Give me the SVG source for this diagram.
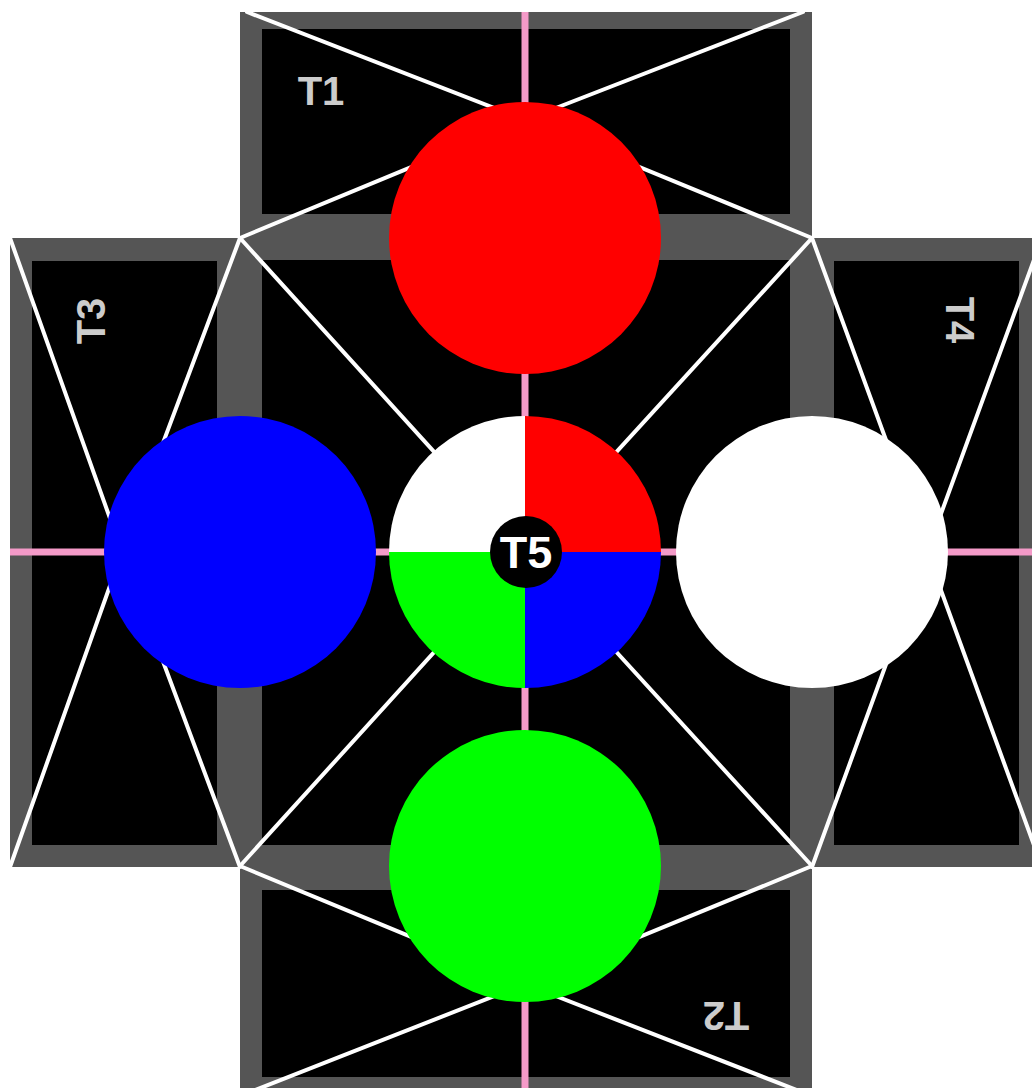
<svg xmlns="http://www.w3.org/2000/svg" width="1032" height="1088" viewBox="0 0 1032 1088">
  <style>
    .frame { fill: #555555; }
    .inner { fill: #000000; }
    .ray { stroke: #ffffff; stroke-width: 4; fill: none; stroke-linecap: round; }
    .axis { stroke: #f49ac8; stroke-width: 7; fill: none; }
    .lbl { font-family: "Liberation Sans", Arial, sans-serif; font-weight: bold; font-size: 40px; fill: #cccccc; text-anchor: middle; }
    .t5 { font-family: "Liberation Sans", Arial, sans-serif; font-weight: bold; font-size: 45px; fill: #ffffff; text-anchor: middle; }
  </style>
  <rect x="0" y="0" width="1032" height="1088" fill="#ffffff"/>

  <g id="T1">
    <rect class="frame" x="240" y="12" width="572" height="226"/>
    <rect class="inner" x="262" y="29" width="528" height="185"/>
  </g>
  <g id="T2">
    <rect class="frame" x="240" y="866" width="572" height="230"/>
    <rect class="inner" x="262" y="890" width="528" height="187"/>
  </g>
  <g id="T3">
    <rect class="frame" x="10" y="238" width="230" height="629"/>
    <rect class="inner" x="32" y="261" width="185" height="584"/>
  </g>
  <g id="T4">
    <rect class="frame" x="812" y="238" width="230" height="629"/>
    <rect class="inner" x="834" y="261" width="185" height="584"/>
  </g>
  <g id="T5">
    <rect class="frame" x="240" y="238" width="572" height="628"/>
    <rect class="inner" x="262" y="260" width="528" height="585"/>
  </g>

  <g id="connectors">
    <line class="axis" x1="525" y1="12" x2="525" y2="1088"/>
    <line class="axis" x1="10" y1="552" x2="1032" y2="552"/>
    <!-- T1 rays -->
    <line class="ray" x1="247" y1="12" x2="525" y2="120"/>
    <line class="ray" x1="803" y1="12" x2="525" y2="120"/>
    <line class="ray" x1="240" y1="238" x2="525" y2="120"/>
    <line class="ray" x1="812" y1="238" x2="525" y2="120"/>
    <!-- T2 rays -->
    <line class="ray" x1="240" y1="866" x2="525" y2="984"/>
    <line class="ray" x1="812" y1="866" x2="525" y2="984"/>
    <line class="ray" x1="240" y1="1096" x2="525" y2="984"/>
    <line class="ray" x1="812" y1="1096" x2="525" y2="984"/>
    <!-- T3 rays -->
    <line class="ray" x1="10" y1="238" x2="122" y2="552"/>
    <line class="ray" x1="240" y1="238" x2="122" y2="552"/>
    <line class="ray" x1="10" y1="867" x2="122" y2="552"/>
    <line class="ray" x1="240" y1="867" x2="122" y2="552"/>
    <!-- T4 rays -->
    <line class="ray" x1="812" y1="238" x2="927" y2="552"/>
    <line class="ray" x1="1042" y1="238" x2="927" y2="552"/>
    <line class="ray" x1="812" y1="867" x2="927" y2="552"/>
    <line class="ray" x1="1042" y1="867" x2="927" y2="552"/>
    <!-- T5 rays -->
    <line class="ray" x1="240" y1="238" x2="525" y2="552"/>
    <line class="ray" x1="812" y1="238" x2="525" y2="552"/>
    <line class="ray" x1="240" y1="866" x2="525" y2="552"/>
    <line class="ray" x1="812" y1="866" x2="525" y2="552"/>
  </g>

  <g id="circle-red"><circle cx="525" cy="238" r="136" fill="#ff0000"/></g>
  <g id="circle-blue"><circle cx="240" cy="552" r="136" fill="#0000ff"/></g>
  <g id="circle-white"><circle cx="812" cy="552" r="136" fill="#ffffff"/></g>
  <g id="circle-green"><circle cx="525" cy="866" r="136" fill="#00ff00"/></g>

  <g id="pie-T5">
    <path d="M525,552 L389,552 A136,136 0 0 1 525,416 Z" fill="#ffffff"/>
    <path d="M525,552 L525,416 A136,136 0 0 1 661,552 Z" fill="#ff0000"/>
    <path d="M525,552 L661,552 A136,136 0 0 1 525,688 Z" fill="#0000ff"/>
    <path d="M525,552 L525,688 A136,136 0 0 1 389,552 Z" fill="#00ff00"/>
    <circle cx="526" cy="552" r="36" fill="#000000"/>
    <text class="t5" x="526" y="552" dy="0.36em">T5</text>
  </g>

  <g id="labels">
    <text class="lbl" transform="translate(321,91)" dy="0.36em">T1</text>
    <text class="lbl" transform="translate(726,1016) rotate(180)" dy="0.36em">T2</text>
    <text class="lbl" transform="translate(91,321) rotate(-90)" dy="0.36em">T3</text>
    <text class="lbl" transform="translate(960,320) rotate(90)" dy="0.36em">T4</text>
  </g>
</svg>
